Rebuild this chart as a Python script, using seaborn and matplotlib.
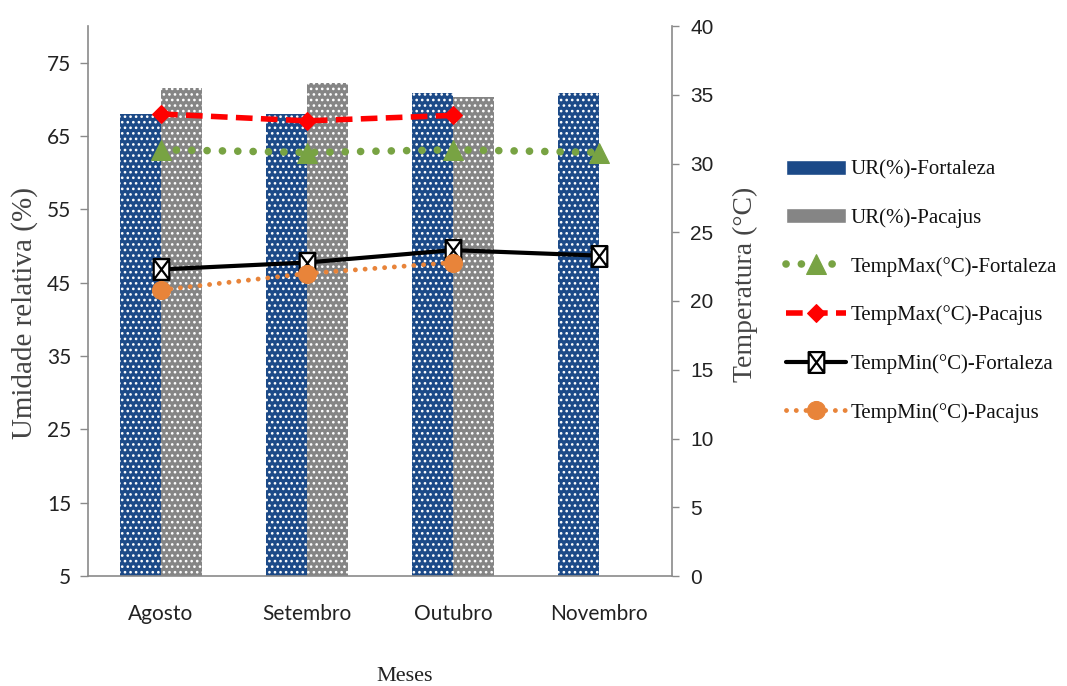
import numpy as np
import pandas as pd
import matplotlib
matplotlib.use('Agg')
import matplotlib.pyplot as plt
import seaborn as sns
from matplotlib.path import Path

# ---------------- data ----------------
meses = ['Agosto', 'Setembro', 'Outubro', 'Novembro']
ur_fortaleza = [68.0, 68.0, 70.9, 70.9]
ur_pacajus = [71.5, 72.2, 70.3, np.nan]
tmax_fortaleza = [31.0, 30.8, 31.0, 30.8]
tmax_pacajus = [33.6, 33.1, 33.5, np.nan]
tmin_fortaleza = [22.3, 22.8, 23.7, 23.3]
tmin_pacajus = [20.8, 22.0, 22.8, np.nan]
left_ticks = [5, 15, 25, 35, 45, 55, 65, 75]
right_ticks = [0, 5, 10, 15, 20, 25, 30, 35, 40]
bar_labels = ['UR(%)-Fortaleza', 'UR(%)-Pacajus']

# ---------------- style ----------------
sns.set_style('white')
plt.rcParams['font.family'] = ['Liberation Serif', 'DejaVu Sans']
plt.rcParams['hatch.linewidth'] = 1.1

BLUE = '#1c4a88'
GRAY = '#858585'
GREEN = '#78a343'
RED = '#ff0000'
ORANGE = '#e8843a'
AXCOL = '#8a8a8a'

fig = plt.figure(figsize=(10.67, 6.86), dpi=100)
ax = fig.add_axes([88 / 1067, 110 / 686, 584 / 1067, 550 / 686])

df_ur = pd.DataFrame({
    'Mes': meses * 2,
    'Serie': [bar_labels[0]] * 4 + [bar_labels[1]] * 4,
    'UR': ur_fortaleza + ur_pacajus,
}).dropna()

sns.barplot(data=df_ur, x='Mes', y='UR', hue='Serie', order=meses,
            hue_order=bar_labels, palette=[BLUE, GRAY], width=0.56,
            saturation=1, ax=ax)
for cont in ax.containers:
    for b in cont:
        b.set_hatch('...')
        b.set_edgecolor('white')
        b.set_linewidth(0)

ax.set_ylim(5, 80)
ax.set_xlim(-0.5, 3.5)
ax.set_yticks(left_ticks)
ax.set_yticklabels([str(t) for t in left_ticks], family='Lato', fontsize=15, color='#222222')
ax.set_xticks(range(len(meses)))
ax.set_xticklabels(meses, family='Lato', fontsize=15, color='#222222')
ax.set_xticks([-0.5, 0.5, 1.5, 2.5, 3.5], minor=True)
ax.tick_params(axis='x', which='major', length=0, pad=20)
ax.tick_params(axis='x', which='minor', length=8, width=1, color=AXCOL, direction='out')
ax.tick_params(axis='y', length=6, width=1, color=AXCOL, direction='out', pad=6, left=True)
ax.set_ylabel('Umidade relativa (%)', fontsize=21, color='#444444')
ax.yaxis.set_label_coords(-0.086, 0.478)
ax.set_xlabel('Meses', fontsize=16, color='#222222')
ax.xaxis.set_label_coords(0.543, -0.165)

for s in ['left', 'bottom']:
    ax.spines[s].set_color(AXCOL)
    ax.spines[s].set_linewidth(1.2)
ax.spines['top'].set_visible(False)
ax.spines['right'].set_visible(False)

# ---------------- temperature lines ----------------
ax2 = ax.twinx()
x = np.arange(len(meses))

box_x = Path([(-0.75, -1), (0.75, -1), (0.75, 1), (-0.75, 1), (-0.75, -1),
              (-0.75, -1), (0.75, 1), (-0.75, 1), (0.75, -1)],
             [Path.MOVETO, Path.LINETO, Path.LINETO, Path.LINETO, Path.CLOSEPOLY,
              Path.MOVETO, Path.LINETO, Path.MOVETO, Path.LINETO])

series = [
    ('TempMax(°C)-Fortaleza', tmax_fortaleza,
     dict(color=GREEN, lw=5.5, ls=(0, (0.01, 2.0)), dash_capstyle='round',
          marker='^', markersize=15, markerfacecolor=GREEN, markeredgecolor=GREEN)),
    ('TempMax(°C)-Pacajus', tmax_pacajus,
     dict(color=RED, lw=4, ls=(0, (3, 1.5)), marker='D', markersize=9,
          markerfacecolor=RED, markeredgecolor=RED)),
    ('TempMin(°C)-Fortaleza', tmin_fortaleza,
     dict(color='black', lw=3, ls='-', marker=box_x, markersize=15,
          markerfacecolor='white', markeredgecolor='black', markeredgewidth=1.6)),
    ('TempMin(°C)-Pacajus', tmin_pacajus,
     dict(color=ORANGE, lw=3.5, ls=(0, (0.01, 2.0)), dash_capstyle='round',
          marker='o', markersize=13, markerfacecolor=ORANGE, markeredgecolor=ORANGE)),
]
for lab, vals, kw in series:
    d = pd.DataFrame({'x': x, 'y': vals}).dropna()
    sns.lineplot(data=d, x='x', y='y', ax=ax2, label=lab, **kw)

if ax2.get_legend() is not None:
    ax2.get_legend().remove()
if ax.get_legend() is not None:
    ax.get_legend().remove()

ax2.set_ylim(0, 40)
ax2.set_yticks(right_ticks)
ax2.set_yticklabels([str(t) for t in right_ticks], family='Liberation Sans', fontsize=15, color='#222222')
ax2.tick_params(axis='y', length=5, width=1, color=AXCOL, direction='out', pad=8, right=True)
ax2.set_ylabel('Temperatura (°C)', fontsize=20, color='#444444')
ax2.yaxis.set_label_coords(1.104, 0.53)
ax2.set_xlabel('')
for s in ['left', 'top', 'bottom']:
    ax2.spines[s].set_visible(False)
ax2.spines['right'].set_color(AXCOL)
ax2.spines['right'].set_linewidth(1.2)
ax.set_xlim(-0.5, 3.5)

h1, l1 = ax.get_legend_handles_labels()
h2, l2 = ax2.get_legend_handles_labels()
fig.legend(h1 + h2, l1 + l2, loc='upper left',
           bbox_to_anchor=(786 / 1067, 1 - 160 / 686), frameon=False,
           fontsize=15, handlelength=2.9, handletextpad=0.2,
           labelspacing=1.38, borderpad=0, borderaxespad=0,
           labelcolor='#111111')

fig.savefig('out.png', dpi=100)
